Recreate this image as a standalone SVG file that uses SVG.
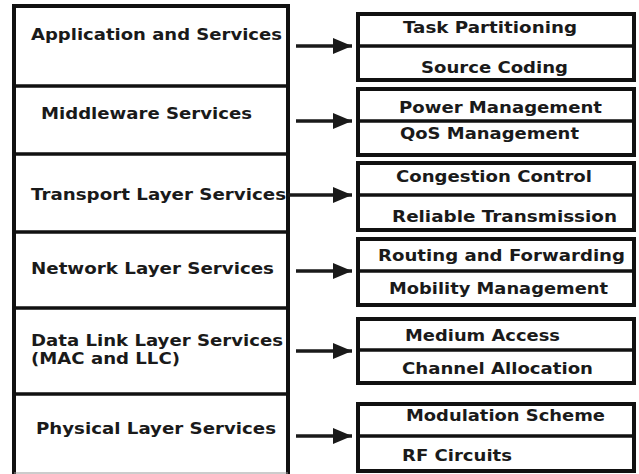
<svg xmlns="http://www.w3.org/2000/svg" width="639" height="474" viewBox="0 0 639 474">
  <defs>
    <marker id="head" markerWidth="20" markerHeight="16" refX="19" refY="8" orient="auto" markerUnits="userSpaceOnUse">
      <path d="M0,0 L19,8 L0,16 Z" fill="#1a1a1a"/>
    </marker>
  </defs>
  <style>
    .frame { fill: #ffffff; stroke: #111111; stroke-width: 4; }
    .edge { stroke: #111111; stroke-width: 4; fill: none; }
    .sep { stroke: #111111; stroke-width: 3.5; }
    .lbl { font-family: "DejaVu Sans", Verdana, sans-serif; font-weight: bold; font-size: 16.5px; fill: #1a1a1a; }
    .wire { stroke: #1a1a1a; stroke-width: 3.5; fill: none; }
  </style>
  <rect width="639" height="474" fill="#ffffff"/>

  <!-- protocol stack column (open at the bottom, only a faint rule) -->
  <g id="stack">
    <path class="edge" d="M14,474 V6 H288 V474"/>
    <line x1="14" y1="473" x2="288" y2="473" stroke="#9a9a9a" stroke-width="1.2"/>
    <line class="sep" x1="14" y1="86" x2="288" y2="86"/>
    <line class="sep" x1="14" y1="154" x2="288" y2="154"/>
    <line class="sep" x1="14" y1="232" x2="288" y2="232"/>
    <line class="sep" x1="14" y1="308" x2="288" y2="308"/>
    <line class="sep" x1="14" y1="394" x2="288" y2="394"/>
  </g>
  <g id="layer-application">
    <text class="lbl" x="31" y="40" textLength="251" lengthAdjust="spacingAndGlyphs">Application and Services</text>
  </g>
  <g id="layer-middleware">
    <text class="lbl" x="41" y="119" textLength="211" lengthAdjust="spacingAndGlyphs">Middleware Services</text>
  </g>
  <g id="layer-transport">
    <text class="lbl" x="31" y="200" textLength="255" lengthAdjust="spacingAndGlyphs">Transport Layer Services</text>
  </g>
  <g id="layer-network">
    <text class="lbl" x="31" y="274" textLength="243" lengthAdjust="spacingAndGlyphs">Network Layer Services</text>
  </g>
  <g id="layer-datalink">
    <text class="lbl" x="31" y="346" textLength="252" lengthAdjust="spacingAndGlyphs">Data Link Layer Services</text>
    <text class="lbl" x="31" y="364" textLength="149" lengthAdjust="spacingAndGlyphs">(MAC and LLC)</text>
  </g>
  <g id="layer-physical">
    <text class="lbl" x="36" y="434" textLength="240" lengthAdjust="spacingAndGlyphs">Physical Layer Services</text>
  </g>

  <!-- service boxes -->
  <g id="svc-application">
    <rect class="frame" x="358" y="14" width="276" height="66"/>
    <line class="sep" x1="358" y1="46" x2="634" y2="46"/>
    <text class="lbl" x="403" y="33" textLength="174" lengthAdjust="spacingAndGlyphs">Task Partitioning</text>
    <text class="lbl" x="421" y="73" textLength="147" lengthAdjust="spacingAndGlyphs">Source Coding</text>
  </g>
  <g id="svc-middleware">
    <rect class="frame" x="358" y="89" width="276" height="66"/>
    <line class="sep" x1="358" y1="121" x2="634" y2="121"/>
    <text class="lbl" x="399" y="113" textLength="203" lengthAdjust="spacingAndGlyphs">Power Management</text>
    <text class="lbl" x="400" y="139" textLength="179" lengthAdjust="spacingAndGlyphs">QoS Management</text>
  </g>
  <g id="svc-transport">
    <rect class="frame" x="358" y="163" width="276" height="67"/>
    <line class="sep" x1="358" y1="195" x2="634" y2="195"/>
    <text class="lbl" x="396" y="182" textLength="196" lengthAdjust="spacingAndGlyphs">Congestion Control</text>
    <text class="lbl" x="392" y="222" textLength="225" lengthAdjust="spacingAndGlyphs">Reliable Transmission</text>
  </g>
  <g id="svc-network">
    <rect class="frame" x="358" y="239" width="276" height="66"/>
    <line class="sep" x1="358" y1="271" x2="634" y2="271"/>
    <text class="lbl" x="378" y="261" textLength="247" lengthAdjust="spacingAndGlyphs">Routing and Forwarding</text>
    <text class="lbl" x="389" y="294" textLength="219" lengthAdjust="spacingAndGlyphs">Mobility Management</text>
  </g>
  <g id="svc-datalink">
    <rect class="frame" x="358" y="319" width="276" height="64"/>
    <line class="sep" x1="358" y1="350" x2="634" y2="350"/>
    <text class="lbl" x="405" y="341" textLength="155" lengthAdjust="spacingAndGlyphs">Medium Access</text>
    <text class="lbl" x="402" y="374" textLength="191" lengthAdjust="spacingAndGlyphs">Channel Allocation</text>
  </g>
  <g id="svc-physical">
    <rect class="frame" x="358" y="404" width="276" height="67"/>
    <line class="sep" x1="358" y1="436" x2="634" y2="436"/>
    <text class="lbl" x="406" y="421" textLength="199" lengthAdjust="spacingAndGlyphs">Modulation Scheme</text>
    <text class="lbl" x="402" y="461" textLength="110" lengthAdjust="spacingAndGlyphs">RF Circuits</text>
  </g>

  <!-- connectors -->
  <g id="connectors">
    <line class="wire" x1="296" y1="46" x2="352" y2="46" marker-end="url(#head)"/>
    <line class="wire" x1="296" y1="121" x2="352" y2="121" marker-end="url(#head)"/>
    <line class="wire" x1="288" y1="195" x2="352" y2="195" marker-end="url(#head)"/>
    <line class="wire" x1="296" y1="271" x2="352" y2="271" marker-end="url(#head)"/>
    <line class="wire" x1="296" y1="351" x2="352" y2="351" marker-end="url(#head)"/>
    <line class="wire" x1="296" y1="436" x2="352" y2="436" marker-end="url(#head)"/>
  </g>
</svg>
